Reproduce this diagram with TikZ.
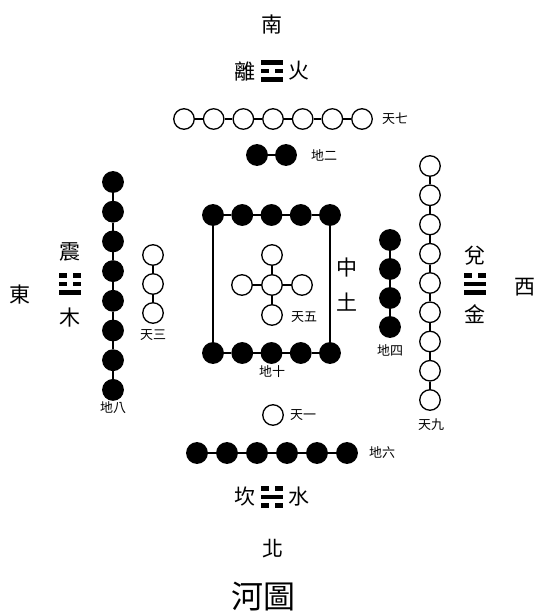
\documentclass[tikz,border=0pt]{standalone}
\usepackage{fontspec}
\newfontfamily\cjk{Noto Sans CJK TC}
\usetikzlibrary{calc}
\tikzset{
  tian/.style={circle, draw, fill=white, line width=1.3pt, minimum size=20.5pt, inner sep=0},
  di/.style={circle, draw, fill=black, line width=1.3pt, minimum size=20.5pt, inner sep=0},
  link/.style={line width=1.3pt},
  fang/.style={font=\cjk\fontsize{21}{21}\selectfont, inner sep=0},
  shu/.style={font=\cjk\fontsize{13}{13}\selectfont, inner sep=0},
  ti/.style={font=\cjk\fontsize{32}{32}\selectfont, inner sep=0}
}
% trigram: #1 centre, #2 lines from top to bottom (1 solid, 0 broken)
\newcommand{\gua}[2]{%
  \begin{scope}[shift={#1}]
  \foreach \b [count=\k] in {#2} {
    \ifnum\b=1
      \fill (-11,{8.5*(\k-2)-2.2}) rectangle (11,{8.5*(\k-2)+2.2});
    \else
      \fill (-11,{8.5*(\k-2)-2.2}) rectangle (-2.8,{8.5*(\k-2)+2.2});
      \fill (2.8,{8.5*(\k-2)-2.2}) rectangle (11,{8.5*(\k-2)+2.2});
    \fi
  }
  \end{scope}}

\begin{document}
\begin{tikzpicture}[x=1pt, y=-1pt]
\useasboundingbox (0,0) rectangle (537,615);
% directions and trigrams
\node[fang] (nan) at (272,25) {南};
\node[fang] (bei) at (273,549) {北};
\node[fang] (dong) at (20,295) {東};
\node[fang] (xi) at (525,287) {西};
\node[fang] (li) at (245,71) {離};
\node[fang] (huo) at (299,71) {火};
\gua{(272,71)}{1,0,1}
\node[fang] (kan) at (245,497) {坎};
\node[fang] (shui) at (299,497) {水};
\gua{(272,497)}{0,1,0}
\node[fang] (zhen) at (70,252) {震};
\node[fang] (mu) at (70,318) {木};
\gua{(70,284)}{0,0,1}
\node[fang] (dui) at (475,256) {兌};
\node[fang] (jin) at (475,314) {金};
\gua{(475,284)}{0,1,1}
\node[fang] (zhong) at (347,268) {中};
\node[fang] (tu) at (347,302) {土};
\node[ti] (hetu) at (263,597) {河圖};

% south: seven and two
\foreach \i in {1,...,7}
  \node[tian] (qi\i) at ({184+29.67*(\i-1)},119) {};
\foreach \i [evaluate=\i as \j using int(\i+1)] in {1,...,6}
  \draw[link] (qi\i)--(qi\j);
\node[shu] (tqi) at (395,119) {天七};
\node[di] (er1) at (257,155) {};
\node[di] (er2) at (286,155) {};
\draw[link] (er1)--(er2);
\node[shu] (der) at (324,155) {地二};

% east: eight and three
\foreach \i in {1,...,8}
  \node[di] (ba\i) at (113,{182+29.7*(\i-1)}) {};
\foreach \i [evaluate=\i as \j using int(\i+1)] in {1,...,7}
  \draw[link] (ba\i)--(ba\j);
\node[shu] (dba) at (113,408) {地八};
\foreach \i in {1,2,3}
  \node[tian] (san\i) at (153,{255+29*(\i-1)}) {};
\draw[link] (san1)--(san2) (san2)--(san3);
\node[shu] (tsan) at (153,335) {天三};

% centre: five and ten
\foreach \i in {1,...,5} {
  \node[di] (ta\i) at ({213+29.25*(\i-1)},215) {};
  \node[di] (tb\i) at ({213+29.25*(\i-1)},353) {};
}
\foreach \i [evaluate=\i as \j using int(\i+1)] in {1,...,4}
  \draw[link] (ta\i)--(ta\j) (tb\i)--(tb\j);
\draw[link] (ta1)--(tb1) (ta5)--(tb5);
\node[shu] (dshi) at (272,372) {地十};
\node[tian] (wu0) at (272,285) {};
\node[tian] (wu1) at (272,255) {};
\node[tian] (wu2) at (242,285) {};
\node[tian] (wu3) at (302,285) {};
\node[tian] (wu4) at (272,315) {};
\foreach \i in {1,...,4}
  \draw[link] (wu0)--(wu\i);
\node[shu] (twu) at (304,317) {天五};

% west: four and nine
\foreach \i in {1,...,4}
  \node[di] (si\i) at (390,{240+29*(\i-1)}) {};
\foreach \i [evaluate=\i as \j using int(\i+1)] in {1,...,3}
  \draw[link] (si\i)--(si\j);
\node[shu] (dsi) at (390,350) {地四};
\foreach \i in {1,...,9}
  \node[tian] (jiu\i) at (430,{166+29.25*(\i-1)}) {};
\foreach \i [evaluate=\i as \j using int(\i+1)] in {1,...,8}
  \draw[link] (jiu\i)--(jiu\j);
\node[shu] (tjiu) at (431,425) {天九};

% north: one and six
\node[tian] (yi) at (273,415) {};
\node[shu] (tyi) at (303,415) {天一};
\foreach \i in {1,...,6}
  \node[di] (liu\i) at ({197+30*(\i-1)},453) {};
\foreach \i [evaluate=\i as \j using int(\i+1)] in {1,...,5}
  \draw[link] (liu\i)--(liu\j);
\node[shu] (dliu) at (382,453) {地六};
\end{tikzpicture}
\end{document}
